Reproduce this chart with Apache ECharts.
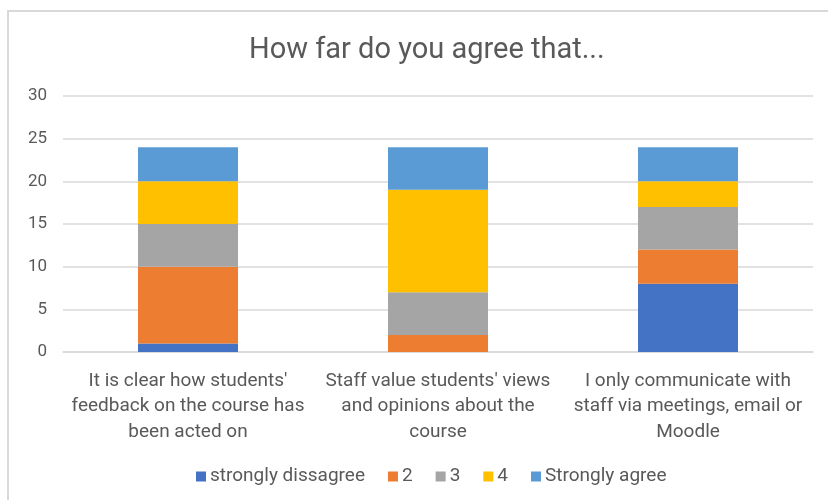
<!DOCTYPE html>
<html>
<head>
<meta charset="utf-8">
<script src="https://cdn.jsdelivr.net/npm/echarts@6/dist/echarts.min.js"></script>
<style>
html,body{margin:0;padding:0;background:#fff;}
#frame{position:absolute;left:7px;top:10px;width:840px;height:520px;border-left:2px solid #d9d9d9;border-top:2px solid #d9d9d9;box-sizing:border-box;}
#chart{position:absolute;left:0;top:0;width:828px;height:500px;}
</style>
</head>
<body>
<div id="frame"></div>
<div id="chart"></div>
<script>
const categories = [
  "It is clear how students'\nfeedback on the course has\nbeen acted on",
  "Staff value students' views\nand opinions about the\ncourse",
  "I only communicate with\nstaff via meetings, email or\nMoodle"
];
const seriesNames = ["strongly dissagree", "2", "3", "4", "Strongly agree"];
const stronglyDisagree = [1, 0, 8];
const two = [9, 2, 4];
const three = [5, 5, 5];
const four = [5, 12, 3];
const stronglyAgree = [4, 5, 4];
const yTicks = [0, 5, 10, 15, 20, 25, 30];

const colors = ['#4472C4', '#ED7D31', '#A5A5A5', '#FFC000', '#5B9BD5'];
const values = [stronglyDisagree, two, three, four, stronglyAgree];
const font = 'Roboto';
const chart = echarts.init(document.getElementById('chart'));
chart.setOption({
  animation: false,
  color: colors,
  title: {
    text: 'How far do you agree that...',
    left: 244,
    top: 31,
    textStyle: {fontFamily: font, fontSize: 29, fontWeight: 'normal', color: '#595959'}
  },
  legend: {
    bottom: 9,
    left: 191,
    icon: 'rect',
    itemWidth: 10,
    itemHeight: 10,
    itemGap: 23,
    data: seriesNames,
    textStyle: {fontFamily: font, fontSize: 19, color: '#595959', padding: [0,0,0,-1]}
  },
  grid: {left: 63, right: 15, top: 96, bottom: 148},
  xAxis: {
    type: 'category',
    data: categories,
    axisLine: {lineStyle: {color: '#d9d9d9', width: 1.5}},
    axisTick: {show: false},
    axisLabel: {fontFamily: font, fontSize: 19, color: '#595959', lineHeight: 25.5, margin: 16, interval: 0}
  },
  yAxis: {
    type: 'value',
    min: yTicks[0],
    max: yTicks[yTicks.length - 1],
    interval: 5,
    axisLine: {show: false},
    axisTick: {show: false},
    splitLine: {lineStyle: {color: '#d9d9d9', width: 1.5}},
    axisLabel: {fontFamily: font, fontSize: 17, color: '#595959', margin: 16}
  },
  series: seriesNames.map((n, i) => ({
    name: n,
    type: 'bar',
    stack: 'total',
    barWidth: 100,
    data: values[i]
  }))
});
</script>
</body>
</html>
